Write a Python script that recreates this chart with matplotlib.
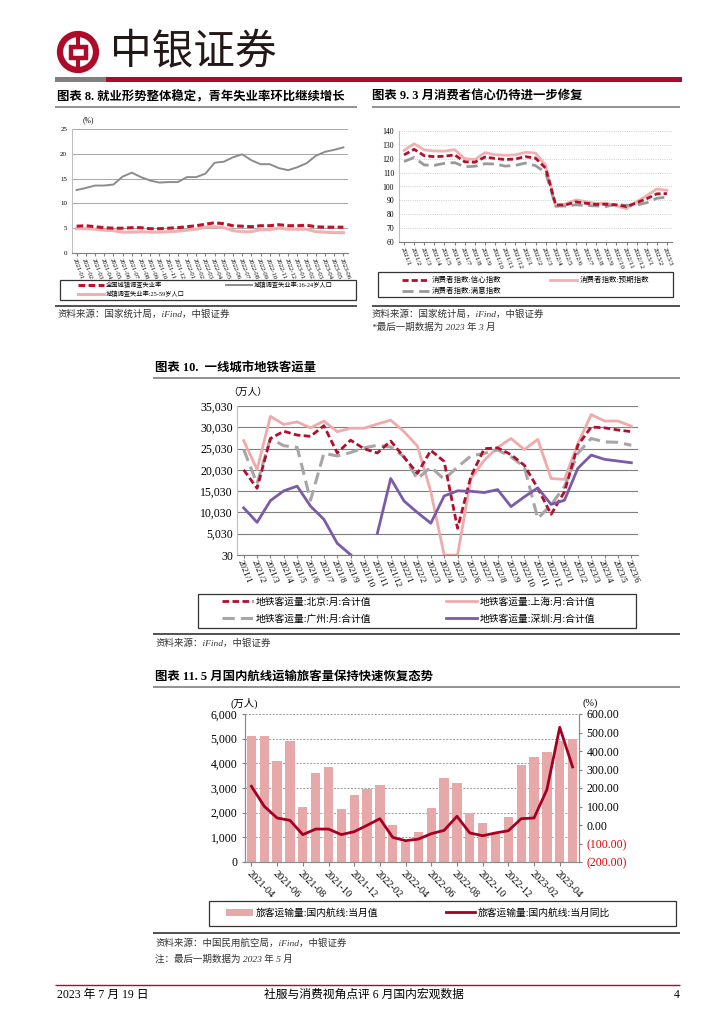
import matplotlib
matplotlib.use('Agg')
import matplotlib.pyplot as plt
from matplotlib.patches import Circle, Rectangle
from matplotlib.ticker import FuncFormatter
import numpy as np

W, H = 724, 1024
plt.rcParams['font.family'] = ['Liberation Serif', 'Noto Sans CJK SC']
plt.rcParams['axes.unicode_minus'] = False

# ---- chart 8: unemployment
months8 = ['2021-01', '2021-02', '2021-03', '2021-04', '2021-05', '2021-06', '2021-07', '2021-08',
           '2021-09', '2021-10', '2021-11', '2021-12', '2022-01', '2022-02', '2022-03', '2022-04',
           '2022-05', '2022-06', '2022-07', '2022-08', '2022-09', '2022-10', '2022-11', '2022-12',
           '2023-01', '2023-02', '2023-03', '2023-04', '2023-05', '2023-06']
unemp_all = [5.4, 5.5, 5.3, 5.1, 5.0, 5.0, 5.1, 5.1, 4.9, 4.9, 5.0, 5.1, 5.3, 5.5, 5.8, 6.1,
             5.9, 5.5, 5.4, 5.3, 5.5, 5.5, 5.7, 5.5, 5.5, 5.6, 5.3, 5.2, 5.2, 5.2]
unemp_young = [12.7, 13.1, 13.6, 13.6, 13.8, 15.4, 16.2, 15.3, 14.6, 14.2, 14.3, 14.3, 15.3, 15.3,
               16.0, 18.2, 18.4, 19.3, 19.9, 18.7, 17.9, 17.9, 17.1, 16.7, 17.3, 18.1, 19.6,
               20.4, 20.8, 21.3]
unemp_mid = [4.9, 4.9, 4.8, 4.6, 4.5, 4.2, 4.2, 4.3, 4.2, 4.2, 4.3, 4.4, 4.6, 4.8, 5.2, 5.3,
             5.1, 4.5, 4.3, 4.3, 4.7, 4.7, 5.0, 4.8, 4.8, 4.8, 4.3, 4.2, 4.1, 4.1]

# ---- chart 9: consumer confidence
months9 = ['2021/1', '2021/2', '2021/3', '2021/4', '2021/5', '2021/6', '2021/7', '2021/8', '2021/9',
           '2021/10', '2021/11', '2021/12', '2022/1', '2022/2', '2022/3', '2022/4', '2022/5',
           '2022/6', '2022/7', '2022/8', '2022/9', '2022/10', '2022/11', '2022/12', '2023/1',
           '2023/2', '2023/3']
conf = [122.8, 126.8, 122.2, 121.5, 121.8, 122.8, 117.8, 117.5, 121.2, 120.2, 119.4, 119.8, 121.5,
        120.5, 113.2, 86.7, 86.8, 88.9, 87.9, 87.1, 87.2, 86.8, 85.5, 88.3, 91.2, 94.7, 94.9]
expect = [126.0, 130.8, 126.4, 125.6, 125.5, 126.6, 120.1, 119.4, 124.4, 122.9, 122.5, 122.8, 124.6,
          124.1, 115.3, 85.5, 87.5, 90.4, 89.0, 87.7, 88.1, 86.0, 84.0, 89.0, 93.4, 98.2, 97.3]
satis = [118.0, 120.9, 115.5, 115.3, 116.7, 117.2, 114.2, 114.6, 116.4, 116.2, 114.7, 115.2, 116.9,
         115.0, 110.1, 85.9, 85.9, 86.8, 86.3, 86.0, 85.6, 87.2, 86.4, 86.7, 88.3, 91.5, 92.4]

# ---- chart 10: metro ridership (10k persons)
months10 = months9 + ['2023/4', '2023/5', '2023/6']
beijing = [20030, 15700, 27400, 29100, 28200, 27900, 30400, 24000, 27000, 25000, 24000, 26800,
           23000, 19200, 24600, 22000, 6300, 18500, 25000, 25200, 23600, 21100, 15700, 9600,
           14900, 25800, 30100, 29900, 29400, 29000]
shanghai = [26900, 20100, 32600, 30700, 31300, 29900, 31500, 29000, 29800, 29800, 30800, 31700,
            29000, 25600, 14900, 0, 0, 18000, 22300, 25300, 27400, 24800, 27200, 18000,
            17800, 26200, 33000, 31500, 31500, 30300]
guangzhou = [24800, 16800, 27400, 25700, 25300, 12900, 23900, 23300, 24100, 25200, 25800, 25400,
             23100, 17900, 20700, 17800, 20700, 23300, 23900, 24700, 23100, 20700, 8600, 11800,
             16100, 23900, 27400, 26600, 26500, 25800]
shenzhen = [11100, 7700, 12800, 15100, 16200, 11500, 8400, 2770, 100, np.nan, 5100, 18000,
            12700, 10000, 7500, 13900, 15100, 15000, 14700, 15400, 11400, 13700, 15800, 11900,
            12900, 20400, 23500, 22500, 22100, 21700]

# ---- chart 11: domestic air passengers
months11 = ['2021-04', '2021-05', '2021-06', '2021-07', '2021-08', '2021-09', '2021-10', '2021-11',
            '2021-12', '2022-01', '2022-02', '2022-03', '2022-04', '2022-05', '2022-06', '2022-07',
            '2022-08', '2022-09', '2022-10', '2022-11', '2022-12', '2023-01', '2023-02', '2023-03',
            '2023-04', '2023-05']
air_pax = [5090, 5100, 4110, 4920, 2230, 3610, 3860, 2150, 2700, 2960, 3120, 1510, 800, 1200,
           2200, 3390, 3220, 1990, 1580, 1130, 1840, 3930, 4260, 4470, 4890, 4990]
air_yoy = [209, 101, 38, 25, -52, -22, -22, -52, -36, -2, 34, -67, -85, -76, -47, -29, 47, -43,
           -58, -43, -31, 34, 38, 191, 528, 314]

RED = '#AE0B2A'
PINK = '#F2B0B0'
GRAY = '#8C8C8C'
CJK = ['Liberation Serif', 'Noto Sans CJK SC']

fig = plt.figure(figsize=(W / 100, H / 100), dpi=100)
bg = fig.add_axes([0, 0, 1, 1])
bg.set_xlim(0, W)
bg.set_ylim(H, 0)
bg.axis('off')


def px_axes(x0, y0, x1, y1):
    return fig.add_axes([x0 / W, 1 - y1 / H, (x1 - x0) / W, (y1 - y0) / H])


def hline(y, x0, x1, color='#555555', lw=1.0):
    bg.plot([x0, x1], [y, y], color=color, lw=lw, solid_capstyle='butt')


def frame(x0, y0, x1, y1):
    bg.add_patch(Rectangle((x0, y0), x1 - x0, y1 - y0, fill=False, ec='#333333', lw=0.9))


def col_legend(handles, labels, x, y, fs, hl, spacing=0.5):
    # one legend column, its top left corner at pixel (x, y)
    fig.legend(handles, labels, loc='upper left', bbox_to_anchor=(x / W, 1 - y / H),
               frameon=False, borderpad=0, borderaxespad=0, handlelength=hl,
               handletextpad=0.3, labelspacing=spacing,
               prop={'family': CJK, 'size': fs})


def style_cat_axis(ax, labels, fs, rot):
    ax.set_xticks(range(len(labels)))
    ax.set_xticklabels(labels, rotation=rot, ha='left', va='top',
                       rotation_mode='anchor', fontsize=fs)
    ax.set_xlim(-0.5, len(labels) - 0.5)
    for s in ['top', 'right']:
        ax.spines[s].set_visible(False)
    ax.spines['left'].set_color('#BFBFBF')
    ax.spines['bottom'].set_color('#7F7F7F')
    ax.tick_params(axis='x', length=2, color='#7F7F7F', pad=1)
    ax.tick_params(axis='y', length=0)


# ---- header
bg.add_patch(Circle((78, 52), 18, fill=False, ec=RED, lw=4.5))
bg.add_patch(Rectangle((70.5, 46.5), 15, 11, fill=False, ec=RED, lw=3.2))
bg.add_patch(Rectangle((76.3, 33), 3.4, 13.5, color=RED, lw=0))
bg.add_patch(Rectangle((76.3, 57.5), 3.4, 13.5, color=RED, lw=0))
bg.text(110, 52, '中银证券', fontsize=30, family=['Noto Sans CJK SC'], va='center', ha='left',
        color='#231815')
bg.add_patch(Rectangle((55, 77), 51, 5, color='#808080', lw=0))
bg.add_patch(Rectangle((106, 77), 576, 5, color=RED, lw=0))

TITLE = dict(fontsize=8.9, fontweight='bold', va='center', ha='left')
SRC = dict(fontsize=6.8, style='italic', va='center', ha='left', color='#333333')

# ---- chart 8
bg.text(57, 97, '图表 8. 就业形势整体稳定，青年失业率环比继续增长', **TITLE)
hline(107, 55, 357, color='#7F7F7F', lw=1.2)
bg.text(88, 120, '(%)', fontsize=5.5, va='center', ha='center')
ax8 = px_axes(72, 129, 348, 253)
x8 = np.arange(len(months8))
l_mid, = ax8.plot(x8, unemp_mid, color=PINK, lw=2.2)
l_all, = ax8.plot(x8, unemp_all, color='#C0102A', lw=2.2, dashes=(2.2, 1.1))
l_young, = ax8.plot(x8, unemp_young, color=GRAY, lw=1.4)
ax8.set_ylim(0, 25)
ax8.set_yticks(range(0, 26, 5))
ax8.tick_params(axis='y', labelsize=5)
ax8.grid(axis='y', color='#A6A6A6', lw=0.7)
ax8.set_axisbelow(True)
style_cat_axis(ax8, months8, 4.8, -70)
frame(60, 280, 356, 300)
col_legend([l_all, l_mid], ['全国城镇调查失业率', '城镇调查失业率:25-59岁人口'], 78, 282, 4.5, 4.2, 0.35)
col_legend([l_young], ['城镇调查失业率:16-24岁人口'], 226, 282, 4.5, 4.2)
hline(306, 55, 357, color='#333333', lw=1.2)
bg.text(57, 314, '资料来源：国家统计局，iFind，中银证券', **SRC)

# ---- chart 9
bg.text(372, 97, '图表 9. 3 月消费者信心仍待进一步修复', **TITLE)
hline(107, 372, 680, color='#7F7F7F', lw=1.2)
ax9 = px_axes(399, 131, 672, 242)
x9 = np.arange(len(months9))
l_exp, = ax9.plot(x9, expect, color=PINK, lw=2.0)
l_sat, = ax9.plot(x9, satis, color='#999999', lw=2.0, dashes=(4, 2))
l_conf, = ax9.plot(x9, conf, color='#B5102A', lw=2.0, dashes=(2.2, 1.1))
ax9.set_ylim(60, 140)
ax9.set_yticks(range(60, 141, 10))
ax9.tick_params(axis='y', labelsize=5.5)
ax9.grid(axis='y', color='#BFBFBF', lw=0.6, ls=':')
ax9.set_axisbelow(True)
style_cat_axis(ax9, months9, 5.0, -70)
frame(378, 272, 673, 297)
col_legend([l_conf, l_sat], ['消费者指数:信心指数', '消费者指数:满意指数'], 402, 276, 5.4, 3.6, 0.45)
col_legend([l_exp], ['消费者指数:预期指数'], 550, 276, 5.4, 3.6)
hline(306, 372, 680, color='#333333', lw=1.2)
bg.text(372, 314, '资料来源：国家统计局，iFind，中银证券', **SRC)
bg.text(372, 327, '*最后一期数据为 2023 年 3 月', **SRC)

# ---- chart 10
bg.text(155, 369, '图表 10.  一线城市地铁客运量', **TITLE)
hline(378, 153, 680, color='#7F7F7F', lw=1.2)
bg.text(248, 392, '（万人）', fontsize=7, va='center', ha='center')
ax10 = px_axes(237, 406, 638, 555)
x10 = np.arange(len(months10))
l_sh, = ax10.plot(x10, shanghai, color='#F0AAAA', lw=2.0)
l_gz, = ax10.plot(x10, guangzhou, color='#A6A6A6', lw=2.2, dashes=(4, 2))
l_bj, = ax10.plot(x10, beijing, color='#B0102E', lw=2.0, dashes=(2.4, 1.2))
l_sz, = ax10.plot(x10, shenzhen, color='#7B5BA8', lw=2.0)
ax10.set_ylim(30, 35030)
ax10.set_yticks(range(30, 35031, 5000))
ax10.yaxis.set_major_formatter(FuncFormatter(lambda v, p: f'{int(round(v)):,}'))
ax10.tick_params(axis='y', labelsize=8.5, pad=3)
ax10.grid(axis='y', color='#7F7F7F', lw=0.8)
ax10.set_axisbelow(True)
style_cat_axis(ax10, months10, 6.4, -68)
frame(198, 594, 636, 628)
col_legend([l_bj, l_gz], ['地铁客运量:北京:月:合计值', '地铁客运量:广州:月:合计值'],
           222, 597, 7, 3.2, 0.75)
col_legend([l_sh, l_sz], ['地铁客运量:上海:月:合计值', '地铁客运量:深圳:月:合计值'],
           446, 597, 7, 3.2, 0.75)
hline(634, 153, 680, color='#333333', lw=1.2)
bg.text(155, 643, '资料来源：iFind，中银证券', **SRC)

# ---- chart 11
bg.text(155, 677, '图表 11. 5 月国内航线运输旅客量保持快速恢复态势', **TITLE)
hline(687, 153, 680, color='#7F7F7F', lw=1.2)
bg.text(244, 703, '(万人)', fontsize=7.5, va='center', ha='center')
bg.text(590, 703, '(%)', fontsize=7.5, va='center', ha='center')
ax11 = px_axes(245, 714, 579, 862)
x11 = np.arange(len(months11))
bars = ax11.bar(x11, air_pax, width=0.72, color='#E6A8A8', zorder=2)
ax11.set_ylim(0, 6000)
ax11.set_yticks(range(0, 6001, 1000))
ax11.yaxis.set_major_formatter(FuncFormatter(lambda v, p: f'{int(v):,}'))
ax11.tick_params(axis='y', labelsize=8.5, length=2, color='#7F7F7F')
ax11.grid(axis='y', color='#9A9A9A', lw=0.7, ls=(0, (2, 1.5)), zorder=0)
ax11.set_axisbelow(True)
ax11.set_xlim(-0.5, len(months11) - 0.5)
ax11.set_xticks(x11[::2])
ax11.set_xticklabels(months11[::2], rotation=-45, ha='left', va='top',
                     rotation_mode='anchor', fontsize=7.5)
ax11.tick_params(axis='x', length=3, color='#7F7F7F', pad=2)
ax11.spines['top'].set_visible(False)
for s in ['left', 'bottom', 'right']:
    ax11.spines[s].set_color('#8C8C8C')
ax11b = ax11.twinx()
l_yoy, = ax11b.plot(x11, air_yoy, color='#A50021', lw=2.0, zorder=3)
ax11b.set_ylim(-200, 600)
yt = list(range(-200, 601, 100))
ax11b.set_yticks(yt)
ax11b.set_yticklabels([f'({abs(v):.2f})' if v < 0 else f'{v:.2f}' for v in yt])
for v, lab in zip(yt, ax11b.get_yticklabels()):
    if v < 0:
        lab.set_color('#E00000')
ax11b.tick_params(axis='y', labelsize=8.5, length=2, color='#7F7F7F')
ax11b.spines['top'].set_visible(False)
for s in ['left', 'bottom', 'right']:
    ax11b.spines[s].set_color('#8C8C8C')
frame(209, 901, 676, 926)
col_legend([bars], ['旅客运输量:国内航线:当月值'], 226, 908, 7, 2.8)
col_legend([l_yoy], ['旅客运输量:国内航线:当月同比'], 446, 908, 7, 3.0)
hline(933, 153, 680, color='#333333', lw=1.2)
bg.text(155, 943, '资料来源：中国民用航空局，iFind，中银证券', **SRC)
bg.text(155, 959, '注：最后一期数据为 2023 年 5 月', **SRC)

# ---- footer
hline(985, 55, 680, color=RED, lw=1.0)
bg.text(57, 995, '2023 年 7 月 19 日', fontsize=8.5, va='center', ha='left')
bg.text(364, 995, '社服与消费视角点评 6 月国内宏观数据', fontsize=8.5, va='center', ha='center')
bg.text(680, 995, '4', fontsize=8.5, va='center', ha='right')

fig.savefig('out.png', dpi=100)
